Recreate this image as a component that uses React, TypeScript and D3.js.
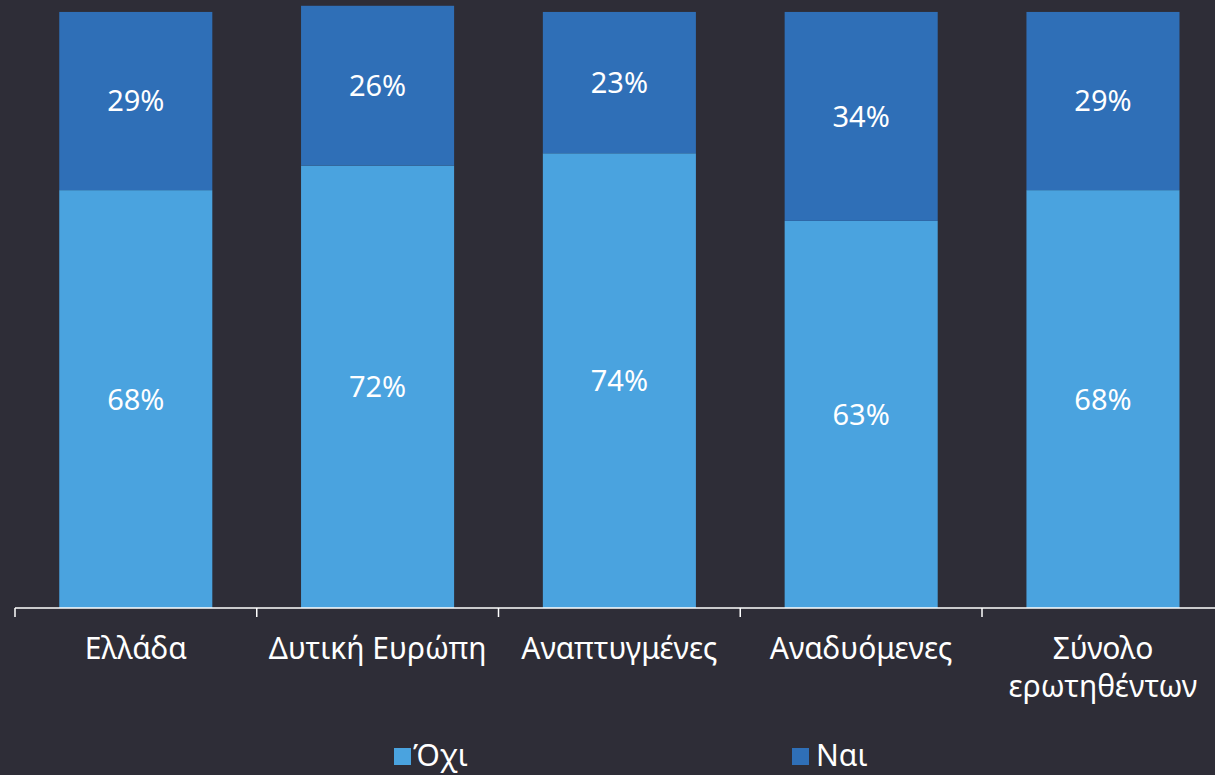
import React from "react";
import * as d3 from "d3";

const categories: string[][] = [
  ["Ελλάδα"],
  ["Δυτική Ευρώπη"],
  ["Αναπτυγμένες"],
  ["Αναδυόμενες"],
  ["Σύνολο", "ερωτηθέντων"],
];
const noValues = [68, 72, 74, 63, 68];
const yesValues = [29, 26, 23, 34, 29];
const seriesNames = ["Όχι", "Ναι"];
const colors = ["#4aa3df", "#2f6fb7"];

const W = 1215;
const H = 775;
const FONT = "'Noto Sans', 'DejaVu Sans', sans-serif";

export default function App() {
  const x = d3
    .scaleBand<number>()
    .domain(d3.range(categories.length))
    .range([15, 15 + 241.75 * 5])
    .paddingInner(0.367)
    .paddingOuter(0.183);
  const y = d3.scaleLinear().domain([0, 100]).range([608, 608 - 614.5]);

  const rows = categories.map((c, i) => ({
    i,
    no: noValues[i],
    yes: yesValues[i],
  }));
  const stack = d3.stack<any>().keys(["no", "yes"])(rows as any);

  const step = 241.75;
  const ticks = d3.range(categories.length + 1).map((k) => 15 + k * step);

  return (
    <svg
      width={W}
      height={H}
      style={{ position: "absolute", left: 0, top: 0, background: "#2e2d37" }}
      fontFamily={FONT}
    >
      <rect x={0} y={0} width={W} height={H} fill="#2e2d37" />
      {stack.map((s, si) =>
        s.map((d, i) => {
          const x0 = x(i)!;
          const y0 = y(d[1]);
          const y1 = y(d[0]);
          return (
            <g key={`${si}-${i}`}>
              <rect
                x={x0}
                y={y0}
                width={x.bandwidth()}
                height={y1 - y0}
                fill={colors[si]}
              />
              <text
                x={x0 + x.bandwidth() / 2}
                y={(y0 + y1) / 2}
                dy="0.36em"
                textAnchor="middle"
                fill="#ffffff"
                fontSize={29}
              >
                {`${si === 0 ? noValues[i] : yesValues[i]}%`}
              </text>
            </g>
          );
        })
      )}
      <line x1={15} x2={W} y1={608} y2={608} stroke="#ffffff" strokeWidth={1.5} />
      {ticks.map((t, k) => (
        <line key={k} x1={t} x2={t} y1={608} y2={617} stroke="#ffffff" strokeWidth={1.5} />
      ))}
      {categories.map((lines, i) => (
        <text
          key={i}
          x={x(i)! + x.bandwidth() / 2}
          y={659}
          textAnchor="middle"
          fill="#ffffff"
          fontSize={30}
        >
          {lines.map((l, j) => (
            <tspan key={j} x={x(i)! + x.bandwidth() / 2} dy={j === 0 ? 0 : 38}>
              {l}
            </tspan>
          ))}
        </text>
      ))}
      {seriesNames.map((n, k) => {
        const lx = k === 0 ? 394 : 792;
        return (
          <g key={n}>
            <rect x={lx} y={748} width={17} height={17} fill={colors[k]} />
            <text x={lx + (k === 0 ? 19 : 24)} y={766} fill="#ffffff" fontSize={30}>
              {n}
            </text>
          </g>
        );
      })}
    </svg>
  );
}
